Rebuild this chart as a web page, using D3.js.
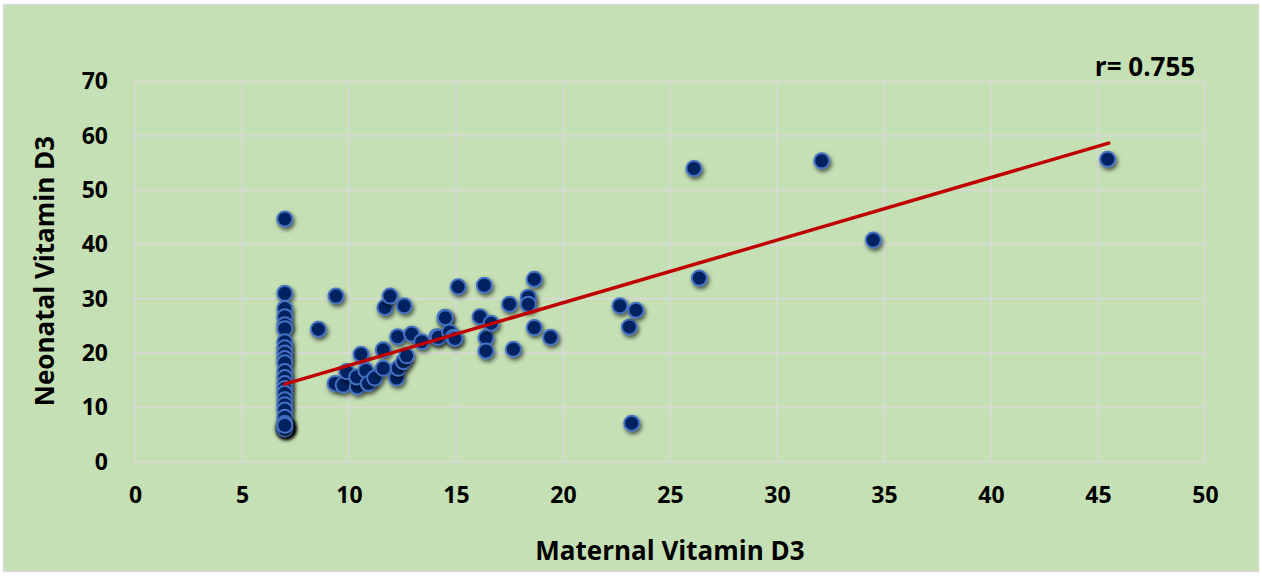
<!DOCTYPE html>
<html><head><meta charset="utf-8">
<script src="https://cdn.jsdelivr.net/npm/d3@7"></script>
<style>body{margin:0;background:#fff}svg{display:block}</style>
</head><body>
<script>
// ---- data ----
const maternal = [
  7,7,7,7,7,7,7,7,7,7,7,7,7,7,7,7,7,7,7,7,7,7,7,7,7,7,7,7,7,7,
  8.57,9.39,9.35,9.73,9.89,10.39,10.36,10.56,10.79,10.9,11.2,11.6,11.6,11.68,11.92,12.22,12.27,12.3,12.54,12.58,12.69,12.93,13.4,
  14.1,14.17,14.49,14.5,14.7,14.88,14.95,15.1,16.12,16.32,16.4,16.4,16.64,17.5,17.68,18.38,18.38,18.66,18.66,19.42,
  22.66,23.1,23.21,23.41,26.12,26.37,32.09,34.5,45.45
];
const neonatal = [
  44.7,31.0,28.2,26.7,25.2,24.5,22.1,21.0,20.0,19.0,18.2,16.6,15.5,14.4,13.5,12.6,11.4,10.5,9.5,8.2,7.1,6.8,6.5,6.3,6.6,6.4,6.2,6.9,6.0,6.7,
  24.4,30.5,14.4,14.1,16.6,13.8,15.6,19.8,16.8,14.4,15.4,20.6,17.2,28.4,30.5,15.4,23.0,17.2,18.4,28.7,19.5,23.5,22.1,
  23.0,22.9,26.6,26.5,23.9,22.9,22.7,32.2,26.7,32.5,22.8,20.4,25.5,29.0,20.7,30.3,29.0,33.6,24.7,22.9,
  28.7,24.8,7.1,27.9,54.0,33.8,55.4,40.8,55.7
];
const xTicks = [0,5,10,15,20,25,30,35,40,45,50];
const yTicks = [0,10,20,30,40,50,60,70];
const trendSlope = 1.153, trendIntercept = 6.2;
const trendRange = [7, 45.5];
const rLabel = "r= 0.755";
const xTitle = "Maternal Vitamin D3";
const yTitle = "Neonatal Vitamin D3";

// ---- chart ----
const W = 1262, H = 576;
const svg = d3.select("body").append("svg").attr("width", W).attr("height", H);
const defs = svg.append("defs");
const f = defs.append("filter").attr("id","sh").attr("x","-50%").attr("y","-50%").attr("width","200%").attr("height","200%");
f.append("feDropShadow").attr("dx",1.5).attr("dy",2.5).attr("stdDeviation",2.2).attr("flood-color","#000").attr("flood-opacity",0.65);

svg.append("rect").attr("x",3.5).attr("y",4.5).attr("width",1255).attr("height",567)
  .attr("fill","#c5e0b4").attr("stroke","#d9d9d9").attr("stroke-width",1.5);

const x = d3.scaleLinear().domain([0,50]).range([135,1205]);
const y = d3.scaleLinear().domain([0,70]).range([461.7,81.5]);
const font = "'Open Sans', sans-serif";

const grid = svg.append("g");
grid.selectAll("line.v").data(xTicks).join("line")
  .attr("x1",d=>x(d)).attr("x2",d=>x(d)).attr("y1",y(0)).attr("y2",y(70))
  .attr("stroke","#d9d9d9").attr("stroke-width",1.5);
grid.selectAll("line.h").data(yTicks).join("line")
  .attr("x1",x(0)).attr("x2",x(50)).attr("y1",d=>y(d)).attr("y2",d=>y(d))
  .attr("stroke","#d9d9d9").attr("stroke-width",1.5);

const xAxis = svg.append("g").attr("transform",`translate(0,${y(0)})`)
  .call(d3.axisBottom(x).tickValues(xTicks).tickSize(0).tickPadding(25));
xAxis.select(".domain").remove();
xAxis.selectAll("text").attr("font-family",font).attr("font-weight","bold").attr("font-size",23).attr("fill","#000");

const yAxis = svg.append("g").attr("transform",`translate(${x(0)},0)`)
  .call(d3.axisLeft(y).tickValues(yTicks).tickSize(0).tickPadding(27));
yAxis.select(".domain").remove();
yAxis.selectAll("text").attr("font-family",font).attr("font-weight","bold").attr("font-size",23).attr("fill","#000");

const pts = maternal.map((m,i)=>({m, n: neonatal[i]}));
svg.append("g").selectAll("circle").data(pts).join("circle")
  .attr("cx",d=>x(d.m)).attr("cy",d=>y(d.n)).attr("r",7.5)
  .attr("fill","#002060").attr("stroke","#4472c4").attr("stroke-width",2)
  .attr("filter","url(#sh)");

svg.append("line")
  .attr("x1",x(trendRange[0])).attr("y1",y(trendSlope*trendRange[0]+trendIntercept))
  .attr("x2",x(trendRange[1])).attr("y2",y(trendSlope*trendRange[1]+trendIntercept))
  .attr("stroke","#c00000").attr("stroke-width",3.5).attr("stroke-linecap","round");

svg.append("text").attr("x",1145).attr("y",76).attr("text-anchor","middle")
  .attr("font-family",font).attr("font-weight","bold").attr("font-size",26).text(rLabel);

svg.append("text").attr("x",670).attr("y",560).attr("text-anchor","middle")
  .attr("font-family",font).attr("font-weight","bold").attr("font-size",26).text(xTitle);

svg.append("text").attr("transform",`translate(54,271) rotate(-90)`).attr("text-anchor","middle")
  .attr("font-family",font).attr("font-weight","bold").attr("font-size",26).text(yTitle);
</script>
</body></html>
